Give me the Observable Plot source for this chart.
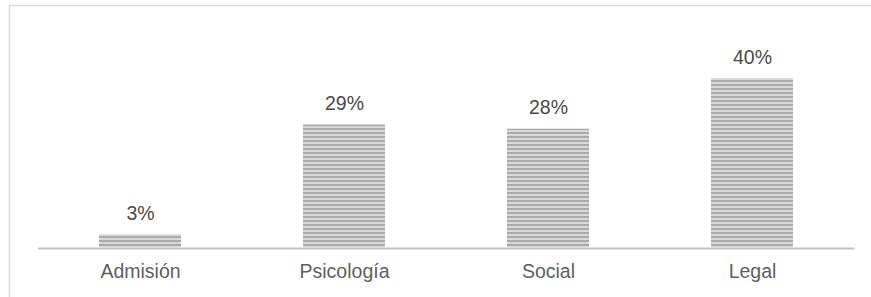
<!DOCTYPE html>
<html>
<head>
<meta charset="utf-8">
<script src="https://cdn.jsdelivr.net/npm/d3@7"></script>
<script src="https://cdn.jsdelivr.net/npm/@observablehq/plot@0.6"></script>
<style>
  html, body { margin: 0; padding: 0; background: #fff; }
  #chart { position: relative; width: 871px; height: 297px; }
</style>
</head>
<body>
<div id="chart"></div>
<script>
const categories = ["Admisión", "Psicología", "Social", "Legal"];
const values = [3, 29, 28, 40];
const labels = ["3%", "29%", "28%", "40%"];

const data = categories.map((c, i) => ({category: c, value: values[i], label: labels[i]}));

const font = "Arimo, 'Liberation Sans', Arial, sans-serif";

const plot = Plot.plot({
  width: 871,
  height: 297,
  marginLeft: 38,
  marginRight: 17,
  marginTop: 78,
  marginBottom: 50,
  style: {fontFamily: font, background: "#fff", overflow: "visible"},
  x: {domain: categories, paddingInner: 0.6, paddingOuter: 0.3, label: null},
  y: {domain: [0, 40], axis: null},
  marks: [
    Plot.barY(data, {x: "category", y: "value", fill: "url(#stripes)"}),
    Plot.ruleY([0], {stroke: "#bfbfbf", strokeWidth: 2, dy: 1}),
    Plot.text(data, {x: "category", y: "value", text: "label", dy: -21, fontSize: 19.5, fill: "#4a4a4a"}),
    Plot.axisX({tickSize: 0, tickPadding: 17, fontSize: 19.5, fill: "#5f5f5f", label: null})
  ]
});

const svg = d3.select(plot);
const defs = svg.insert("defs", ":first-child");
const pat = defs.append("pattern")
  .attr("id", "stripes")
  .attr("patternUnits", "userSpaceOnUse")
  .attr("width", 8).attr("height", 4);
pat.append("rect").attr("width", 8).attr("height", 4).attr("fill", "#d8d8d8");
pat.append("rect").attr("y", 0).attr("width", 8).attr("height", 2).attr("fill", "#ababab");

svg.append("path")
  .attr("d", "M9.5,297V5.5H871")
  .attr("fill", "none")
  .attr("stroke", "#dcdcdc")
  .attr("stroke-width", 1.5);

document.getElementById("chart").appendChild(plot);
</script>
</body>
</html>
